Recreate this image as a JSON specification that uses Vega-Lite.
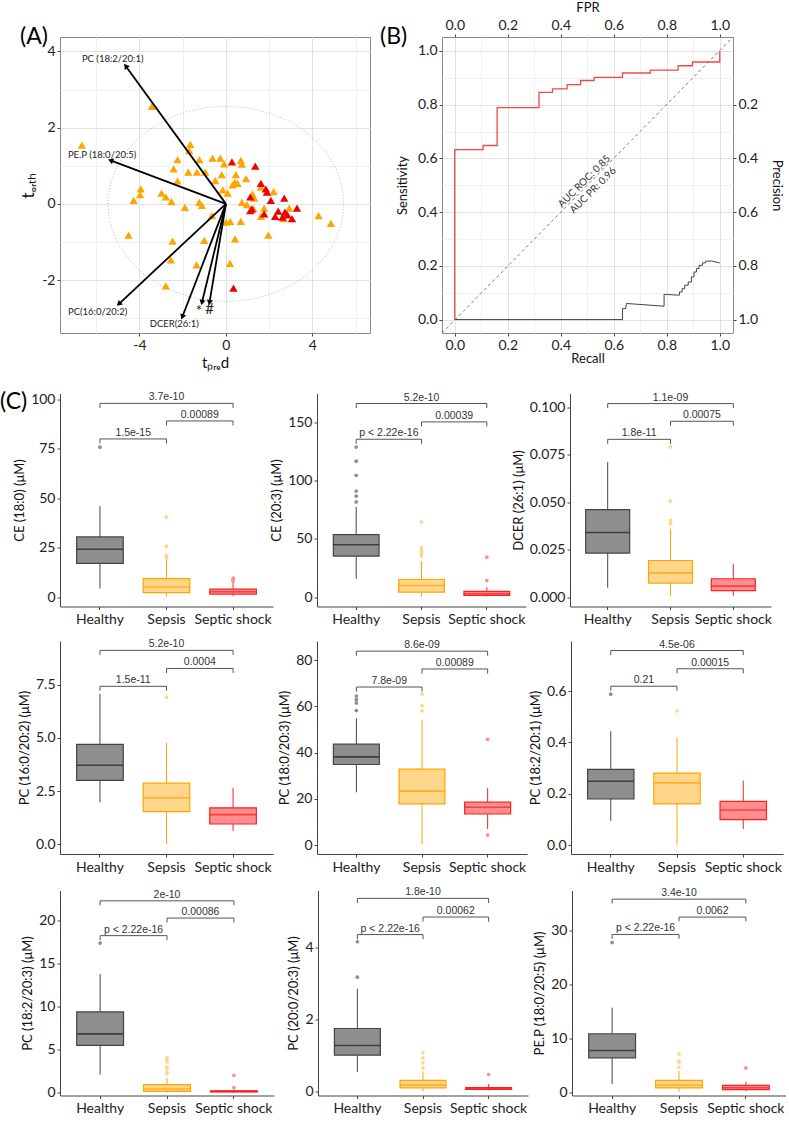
{
"$schema": "https://vega.github.io/schema/vega-lite/v6.json",
"padding": {"left": 0, "top": 0, "right": 0, "bottom": 0},
"config": {
  "font": "Lato",
  "view": {"stroke": null},
  "axis": {"labelFont": "Lato", "titleFont": "Lato", "labelFontSize": 14, "titleFontSize": 13, "titleFontWeight": "normal", "labelColor": "#222222", "titleColor": "#111111", "tickColor": "#444444", "domainColor": "#444444", "tickSize": 3, "grid": false, "labelPadding": 2, "titlePadding": 4},
  "title": {"font": "Lato", "fontSize": 23, "fontWeight": "normal", "anchor": "start", "frame": "group", "color": "#000000"}
},
"resolve": {"scale": {"color": "independent", "fill": "independent", "stroke": "independent"}},
"datasets": {
  "sc": [
    {"x": -3.43, "y": 2.56, "grp": "Sepsis"}, {"x": -6.67, "y": 1.54, "grp": "Sepsis"}, {"x": -1.65, "y": 1.56, "grp": "Sepsis"}, {"x": -1.70, "y": 1.40, "grp": "Sepsis"},
    {"x": -2.24, "y": 1.16, "grp": "Sepsis"}, {"x": -2.42, "y": 0.92, "grp": "Sepsis"}, {"x": -1.23, "y": 1.16, "grp": "Sepsis"}, {"x": -0.62, "y": 1.20, "grp": "Sepsis"},
    {"x": -0.26, "y": 1.20, "grp": "Sepsis"}, {"x": -0.08, "y": 1.05, "grp": "Sepsis"}, {"x": -1.74, "y": 0.83, "grp": "Sepsis"}, {"x": -1.34, "y": 0.83, "grp": "Sepsis"},
    {"x": -0.96, "y": 0.83, "grp": "Sepsis"}, {"x": -2.24, "y": 0.60, "grp": "Sepsis"}, {"x": -0.49, "y": 0.61, "grp": "Sepsis"}, {"x": -0.19, "y": 0.77, "grp": "Sepsis"},
    {"x": 0.46, "y": 0.77, "grp": "Sepsis"}, {"x": 0.42, "y": 0.57, "grp": "Sepsis"}, {"x": 0.54, "y": 0.54, "grp": "Sepsis"}, {"x": 0.31, "y": 0.50, "grp": "Sepsis"},
    {"x": 0.69, "y": 1.14, "grp": "Sepsis"}, {"x": 0.73, "y": 1.04, "grp": "Sepsis"}, {"x": 0.93, "y": 0.66, "grp": "Sepsis"}, {"x": -3.94, "y": 0.39, "grp": "Sepsis"},
    {"x": -3.97, "y": 0.24, "grp": "Sepsis"}, {"x": -4.27, "y": 0.09, "grp": "Sepsis"}, {"x": -2.98, "y": 0.28, "grp": "Sepsis"}, {"x": -2.78, "y": 0.18, "grp": "Sepsis"},
    {"x": -2.52, "y": 0.06, "grp": "Sepsis"}, {"x": -1.23, "y": 0.04, "grp": "Sepsis"}, {"x": -1.11, "y": -0.04, "grp": "Sepsis"}, {"x": -1.90, "y": -0.09, "grp": "Sepsis"},
    {"x": -0.15, "y": 0.37, "grp": "Sepsis"}, {"x": 0.08, "y": 0.28, "grp": "Sepsis"}, {"x": 0.74, "y": 0.04, "grp": "Sepsis"}, {"x": 0.97, "y": -0.02, "grp": "Sepsis"},
    {"x": 1.23, "y": 0.26, "grp": "Sepsis"}, {"x": 1.31, "y": 0.15, "grp": "Sepsis"}, {"x": 1.28, "y": -0.13, "grp": "Sepsis"}, {"x": 1.62, "y": 0.44, "grp": "Sepsis"},
    {"x": 1.77, "y": -0.11, "grp": "Sepsis"}, {"x": 2.21, "y": 0.32, "grp": "Sepsis"}, {"x": 1.62, "y": -0.33, "grp": "Sepsis"}, {"x": 2.67, "y": -0.39, "grp": "Sepsis"},
    {"x": 2.93, "y": -0.11, "grp": "Sepsis"}, {"x": 4.29, "y": -0.31, "grp": "Sepsis"}, {"x": 4.86, "y": -0.51, "grp": "Sepsis"}, {"x": -0.65, "y": -0.31, "grp": "Sepsis"},
    {"x": 0.00, "y": -0.48, "grp": "Sepsis"}, {"x": 0.20, "y": -0.46, "grp": "Sepsis"}, {"x": 0.69, "y": -0.46, "grp": "Sepsis"}, {"x": -4.51, "y": -0.82, "grp": "Sepsis"},
    {"x": -2.47, "y": -0.98, "grp": "Sepsis"}, {"x": -1.00, "y": -0.96, "grp": "Sepsis"}, {"x": 0.42, "y": -0.92, "grp": "Sepsis"}, {"x": 1.96, "y": -0.82, "grp": "Sepsis"},
    {"x": -2.55, "y": -1.47, "grp": "Sepsis"}, {"x": -1.36, "y": -1.60, "grp": "Sepsis"}, {"x": 0.19, "y": -1.56, "grp": "Sepsis"}, {"x": -2.78, "y": -2.15, "grp": "Sepsis"},
    {"x": 0.28, "y": 1.10, "grp": "Septic shock"}, {"x": 1.36, "y": 0.99, "grp": "Septic shock"}, {"x": 1.62, "y": 0.54, "grp": "Septic shock"}, {"x": 1.85, "y": 0.39, "grp": "Septic shock"},
    {"x": 1.90, "y": 0.31, "grp": "Septic shock"}, {"x": 1.13, "y": 0.18, "grp": "Septic shock"}, {"x": 2.08, "y": 0.09, "grp": "Septic shock"}, {"x": 2.70, "y": 0.15, "grp": "Septic shock"},
    {"x": 1.13, "y": -0.18, "grp": "Septic shock"}, {"x": 1.20, "y": -0.13, "grp": "Septic shock"}, {"x": 1.77, "y": -0.26, "grp": "Septic shock"}, {"x": 2.42, "y": -0.19, "grp": "Septic shock"},
    {"x": 2.73, "y": -0.22, "grp": "Septic shock"}, {"x": 2.28, "y": -0.33, "grp": "Septic shock"}, {"x": 2.62, "y": -0.35, "grp": "Septic shock"}, {"x": 3.06, "y": -0.39, "grp": "Septic shock"},
    {"x": 3.29, "y": -0.11, "grp": "Septic shock"}, {"x": 0.35, "y": -2.21, "grp": "Septic shock"}, {"x": 2.85, "y": -0.29, "grp": "Septic shock"}
  ],
  "ell": [
    {"i": 0, "x": 5.45, "y": 0}, {"i": 1, "x": 5.264, "y": 0.663}, {"i": 2, "x": 4.72, "y": 1.28}, {"i": 3, "x": 3.854, "y": 1.81},
    {"i": 4, "x": 2.725, "y": 2.217}, {"i": 5, "x": 1.411, "y": 2.473}, {"i": 6, "x": 0, "y": 2.56}, {"i": 7, "x": -1.411, "y": 2.473},
    {"i": 8, "x": -2.725, "y": 2.217}, {"i": 9, "x": -3.854, "y": 1.81}, {"i": 10, "x": -4.72, "y": 1.28}, {"i": 11, "x": -5.264, "y": 0.663},
    {"i": 12, "x": -5.45, "y": 0}, {"i": 13, "x": -5.264, "y": -0.663}, {"i": 14, "x": -4.72, "y": -1.28}, {"i": 15, "x": -3.854, "y": -1.81},
    {"i": 16, "x": -2.725, "y": -2.217}, {"i": 17, "x": -1.411, "y": -2.473}, {"i": 18, "x": 0, "y": -2.56}, {"i": 19, "x": 1.411, "y": -2.473},
    {"i": 20, "x": 2.725, "y": -2.217}, {"i": 21, "x": 3.854, "y": -1.81}, {"i": 22, "x": 4.72, "y": -1.28}, {"i": 23, "x": 5.264, "y": -0.663}
  ],
  "arr": [
    {"lab": "PC (18:2/20:1)", "x": -4.64, "y": 3.62, "lx": -5.24, "ly": 3.80, "ang": 323.9},
    {"lab": "PE.P (18:0/20:5)", "x": -5.34, "y": 1.14, "lx": -5.73, "ly": 1.29, "ang": 290.6},
    {"lab": "PC(16:0/20:2)", "x": -4.96, "y": -2.63, "lx": -5.94, "ly": -2.85, "ang": 227.0},
    {"lab": "DCER(26:1)", "x": -2.02, "y": -2.97, "lx": -2.39, "ly": -3.16, "ang": 201.1},
    {"lab": "*", "x": -1.11, "y": -2.59, "lx": -1.25, "ly": -2.80, "ang": 193.7},
    {"lab": "#", "x": -0.76, "y": -2.59, "lx": -0.76, "ly": -2.76, "ang": 189.5}
  ],
  "roc": [
    {"i": 0, "fpr": 0, "sens": 0}, {"i": 1, "fpr": 0, "sens": 0.633}, {"i": 2, "fpr": 0.107, "sens": 0.633}, {"i": 3, "fpr": 0.107, "sens": 0.648},
    {"i": 4, "fpr": 0.160, "sens": 0.648}, {"i": 5, "fpr": 0.160, "sens": 0.789}, {"i": 6, "fpr": 0.318, "sens": 0.789}, {"i": 7, "fpr": 0.318, "sens": 0.846},
    {"i": 8, "fpr": 0.369, "sens": 0.846}, {"i": 9, "fpr": 0.369, "sens": 0.859}, {"i": 10, "fpr": 0.424, "sens": 0.859}, {"i": 11, "fpr": 0.424, "sens": 0.875},
    {"i": 12, "fpr": 0.475, "sens": 0.875}, {"i": 13, "fpr": 0.475, "sens": 0.890}, {"i": 14, "fpr": 0.526, "sens": 0.890}, {"i": 15, "fpr": 0.526, "sens": 0.902},
    {"i": 16, "fpr": 0.633, "sens": 0.902}, {"i": 17, "fpr": 0.633, "sens": 0.918}, {"i": 18, "fpr": 0.738, "sens": 0.918}, {"i": 19, "fpr": 0.738, "sens": 0.929},
    {"i": 20, "fpr": 0.843, "sens": 0.929}, {"i": 21, "fpr": 0.843, "sens": 0.945}, {"i": 22, "fpr": 0.897, "sens": 0.945}, {"i": 23, "fpr": 0.897, "sens": 0.959},
    {"i": 24, "fpr": 1.0, "sens": 0.959}, {"i": 25, "fpr": 1.0, "sens": 1.0}
  ],
  "pr": [
    {"i": 0, "rec": 0, "prec": 1.0}, {"i": 1, "rec": 0.633, "prec": 1.0}, {"i": 2, "rec": 0.633, "prec": 0.959}, {"i": 3, "rec": 0.645, "prec": 0.959},
    {"i": 4, "rec": 0.648, "prec": 0.940}, {"i": 5, "rec": 0.786, "prec": 0.950}, {"i": 6, "rec": 0.790, "prec": 0.950}, {"i": 7, "rec": 0.790, "prec": 0.906},
    {"i": 8, "rec": 0.843, "prec": 0.909}, {"i": 9, "rec": 0.848, "prec": 0.909}, {"i": 10, "rec": 0.848, "prec": 0.897}, {"i": 11, "rec": 0.858, "prec": 0.897},
    {"i": 12, "rec": 0.858, "prec": 0.885}, {"i": 13, "rec": 0.868, "prec": 0.885}, {"i": 14, "rec": 0.868, "prec": 0.872}, {"i": 15, "rec": 0.881, "prec": 0.872},
    {"i": 16, "rec": 0.881, "prec": 0.860}, {"i": 17, "rec": 0.893, "prec": 0.860}, {"i": 18, "rec": 0.893, "prec": 0.841}, {"i": 19, "rec": 0.903, "prec": 0.841},
    {"i": 20, "rec": 0.903, "prec": 0.823}, {"i": 21, "rec": 0.912, "prec": 0.823}, {"i": 22, "rec": 0.912, "prec": 0.810}, {"i": 23, "rec": 0.922, "prec": 0.810},
    {"i": 24, "rec": 0.922, "prec": 0.798}, {"i": 25, "rec": 0.935, "prec": 0.798}, {"i": 26, "rec": 0.935, "prec": 0.789}, {"i": 27, "rec": 0.946, "prec": 0.789},
    {"i": 28, "rec": 0.946, "prec": 0.783}, {"i": 29, "rec": 0.969, "prec": 0.782}, {"i": 30, "rec": 1.0, "prec": 0.789}
  ],
  "diag": [{"x": -0.048, "y": -0.05}, {"x": 1.05, "y": 1.052}],
  "auc": [{"lab": "AUC ROC: 0.85", "x": 0.489, "y": 0.514}, {"lab": "AUC PR: 0.96", "x": 0.522, "y": 0.481}],
  "bx": [
    {"t": "box", "p": "P1", "g": "Healthy", "lo": 4.3, "q1": 17.0, "md": 24.2, "q3": 30.4, "hi": 46.0},
    {"t": "box", "p": "P1", "g": "Sepsis", "lo": 0.2, "q1": 2.2, "md": 5.1, "q3": 9.3, "hi": 19.5},
    {"t": "box", "p": "P1", "g": "Septic shock", "lo": 0.5, "q1": 1.5, "md": 2.7, "q3": 4.0, "hi": 7.5},
    {"t": "out", "p": "P1", "g": "Healthy", "v": 75.8},
    {"t": "out", "p": "P1", "g": "Sepsis", "v": 40.4}, {"t": "out", "p": "P1", "g": "Sepsis", "v": 25.7}, {"t": "out", "p": "P1", "g": "Sepsis", "v": 20.9}, {"t": "out", "p": "P1", "g": "Sepsis", "v": 20.4}, {"t": "out", "p": "P1", "g": "Sepsis", "v": 20.1},
    {"t": "out", "p": "P1", "g": "Septic shock", "v": 9.6}, {"t": "out", "p": "P1", "g": "Septic shock", "v": 8.8}, {"t": "out", "p": "P1", "g": "Septic shock", "v": 8.0},
    {"t": "br", "p": "P1", "g": "Healthy", "g2": "Sepsis", "m": "Healthy", "w": false, "y": 80.0, "ylo": 77.7, "lab": "1.5e-15"},
    {"t": "br", "p": "P1", "g": "Sepsis", "g2": "Septic shock", "m": "Sepsis", "w": false, "y": 89.1, "ylo": 86.8, "lab": "0.00089"},
    {"t": "br", "p": "P1", "g": "Healthy", "g2": "Septic shock", "m": "Sepsis", "w": true, "y": 98.0, "ylo": 95.7, "lab": "3.7e-10"},

    {"t": "box", "p": "P2", "g": "Healthy", "lo": 15.8, "q1": 35.3, "md": 45.1, "q3": 53.7, "hi": 77.5},
    {"t": "box", "p": "P2", "g": "Sepsis", "lo": 0.3, "q1": 4.3, "md": 10.1, "q3": 15.2, "hi": 31.0},
    {"t": "box", "p": "P2", "g": "Septic shock", "lo": 0.5, "q1": 1.5, "md": 3.0, "q3": 5.0, "hi": 8.5},
    {"t": "out", "p": "P2", "g": "Healthy", "v": 129}, {"t": "out", "p": "P2", "g": "Healthy", "v": 116.8}, {"t": "out", "p": "P2", "g": "Healthy", "v": 104.7}, {"t": "out", "p": "P2", "g": "Healthy", "v": 91.2}, {"t": "out", "p": "P2", "g": "Healthy", "v": 86.9}, {"t": "out", "p": "P2", "g": "Healthy", "v": 81.8},
    {"t": "out", "p": "P2", "g": "Sepsis", "v": 64.5}, {"t": "out", "p": "P2", "g": "Sepsis", "v": 42.5}, {"t": "out", "p": "P2", "g": "Sepsis", "v": 40.0}, {"t": "out", "p": "P2", "g": "Sepsis", "v": 37.5}, {"t": "out", "p": "P2", "g": "Sepsis", "v": 35.5},
    {"t": "out", "p": "P2", "g": "Septic shock", "v": 34.4}, {"t": "out", "p": "P2", "g": "Septic shock", "v": 14.3},
    {"t": "br", "p": "P2", "g": "Healthy", "g2": "Sepsis", "m": "Healthy", "w": false, "y": 135.7, "ylo": 131.8, "lab": "p < 2.22e-16"},
    {"t": "br", "p": "P2", "g": "Sepsis", "g2": "Septic shock", "m": "Sepsis", "w": false, "y": 150.6, "ylo": 146.7, "lab": "0.00039"},
    {"t": "br", "p": "P2", "g": "Healthy", "g2": "Septic shock", "m": "Sepsis", "w": true, "y": 166.4, "ylo": 162.5, "lab": "5.2e-10"},

    {"t": "box", "p": "P3", "g": "Healthy", "lo": 0.005, "q1": 0.0232, "md": 0.034, "q3": 0.046, "hi": 0.071},
    {"t": "box", "p": "P3", "g": "Sepsis", "lo": 0.0005, "q1": 0.0074, "md": 0.0128, "q3": 0.0193, "hi": 0.036},
    {"t": "box", "p": "P3", "g": "Septic shock", "lo": 0.0007, "q1": 0.0035, "md": 0.0058, "q3": 0.0097, "hi": 0.0176},
    {"t": "out", "p": "P3", "g": "Sepsis", "v": 0.079}, {"t": "out", "p": "P3", "g": "Sepsis", "v": 0.0505}, {"t": "out", "p": "P3", "g": "Sepsis", "v": 0.0404}, {"t": "out", "p": "P3", "g": "Sepsis", "v": 0.039}, {"t": "out", "p": "P3", "g": "Sepsis", "v": 0.0386},
    {"t": "br", "p": "P3", "g": "Healthy", "g2": "Sepsis", "m": "Healthy", "w": false, "y": 0.083, "ylo": 0.0806, "lab": "1.8e-11"},
    {"t": "br", "p": "P3", "g": "Sepsis", "g2": "Septic shock", "m": "Sepsis", "w": false, "y": 0.0925, "ylo": 0.0901, "lab": "0.00075"},
    {"t": "br", "p": "P3", "g": "Healthy", "g2": "Septic shock", "m": "Sepsis", "w": true, "y": 0.1018, "ylo": 0.0994, "lab": "1.1e-09"},

    {"t": "box", "p": "P4", "g": "Healthy", "lo": 1.97, "q1": 3.0, "md": 3.71, "q3": 4.69, "hi": 7.06},
    {"t": "box", "p": "P4", "g": "Sepsis", "lo": 0.0, "q1": 1.53, "md": 2.18, "q3": 2.87, "hi": 4.77},
    {"t": "box", "p": "P4", "g": "Septic shock", "lo": 0.63, "q1": 0.95, "md": 1.39, "q3": 1.71, "hi": 2.65},
    {"t": "out", "p": "P4", "g": "Sepsis", "v": 6.9},
    {"t": "br", "p": "P4", "g": "Healthy", "g2": "Sepsis", "m": "Healthy", "w": false, "y": 7.42, "ylo": 7.21, "lab": "1.5e-11"},
    {"t": "br", "p": "P4", "g": "Sepsis", "g2": "Septic shock", "m": "Sepsis", "w": false, "y": 8.26, "ylo": 8.05, "lab": "0.0004"},
    {"t": "br", "p": "P4", "g": "Healthy", "g2": "Septic shock", "m": "Sepsis", "w": true, "y": 9.11, "ylo": 8.90, "lab": "5.2e-10"},

    {"t": "box", "p": "P5", "g": "Healthy", "lo": 22.9, "q1": 34.9, "md": 38.2, "q3": 43.7, "hi": 54.9},
    {"t": "box", "p": "P5", "g": "Sepsis", "lo": 0.4, "q1": 17.9, "md": 23.4, "q3": 32.9, "hi": 54.2},
    {"t": "box", "p": "P5", "g": "Septic shock", "lo": 7.0, "q1": 13.5, "md": 16.4, "q3": 18.6, "hi": 24.7},
    {"t": "out", "p": "P5", "g": "Healthy", "v": 64.5}, {"t": "out", "p": "P5", "g": "Healthy", "v": 63.0}, {"t": "out", "p": "P5", "g": "Healthy", "v": 61.5}, {"t": "out", "p": "P5", "g": "Healthy", "v": 58.2},
    {"t": "out", "p": "P5", "g": "Sepsis", "v": 65.4}, {"t": "out", "p": "P5", "g": "Sepsis", "v": 60.4}, {"t": "out", "p": "P5", "g": "Sepsis", "v": 58.1},
    {"t": "out", "p": "P5", "g": "Septic shock", "v": 45.8}, {"t": "out", "p": "P5", "g": "Septic shock", "v": 4.4},
    {"t": "br", "p": "P5", "g": "Healthy", "g2": "Sepsis", "m": "Healthy", "w": false, "y": 68.4, "ylo": 66.4, "lab": "7.8e-09"},
    {"t": "br", "p": "P5", "g": "Sepsis", "g2": "Septic shock", "m": "Sepsis", "w": false, "y": 76.2, "ylo": 74.2, "lab": "0.00089"},
    {"t": "br", "p": "P5", "g": "Healthy", "g2": "Septic shock", "m": "Sepsis", "w": true, "y": 83.9, "ylo": 81.9, "lab": "8.6e-09"},

    {"t": "box", "p": "P6", "g": "Healthy", "lo": 0.095, "q1": 0.18, "md": 0.249, "q3": 0.295, "hi": 0.444},
    {"t": "box", "p": "P6", "g": "Sepsis", "lo": 0.002, "q1": 0.161, "md": 0.243, "q3": 0.281, "hi": 0.42},
    {"t": "box", "p": "P6", "g": "Septic shock", "lo": 0.063, "q1": 0.1, "md": 0.137, "q3": 0.171, "hi": 0.252},
    {"t": "out", "p": "P6", "g": "Healthy", "v": 0.588}, {"t": "out", "p": "P6", "g": "Sepsis", "v": 0.523},
    {"t": "br", "p": "P6", "g": "Healthy", "g2": "Sepsis", "m": "Healthy", "w": false, "y": 0.619, "ylo": 0.601, "lab": "0.21"},
    {"t": "br", "p": "P6", "g": "Sepsis", "g2": "Septic shock", "m": "Sepsis", "w": false, "y": 0.687, "ylo": 0.669, "lab": "0.00015"},
    {"t": "br", "p": "P6", "g": "Healthy", "g2": "Septic shock", "m": "Sepsis", "w": true, "y": 0.758, "ylo": 0.740, "lab": "4.5e-06"},

    {"t": "box", "p": "P7", "g": "Healthy", "lo": 2.13, "q1": 5.53, "md": 6.85, "q3": 9.4, "hi": 13.8},
    {"t": "box", "p": "P7", "g": "Sepsis", "lo": 0.02, "q1": 0.19, "md": 0.46, "q3": 0.97, "hi": 1.74},
    {"t": "box", "p": "P7", "g": "Septic shock", "lo": 0.05, "q1": 0.12, "md": 0.18, "q3": 0.25, "hi": 0.4},
    {"t": "out", "p": "P7", "g": "Healthy", "v": 17.4},
    {"t": "out", "p": "P7", "g": "Sepsis", "v": 2.25}, {"t": "out", "p": "P7", "g": "Sepsis", "v": 2.35}, {"t": "out", "p": "P7", "g": "Sepsis", "v": 2.8}, {"t": "out", "p": "P7", "g": "Sepsis", "v": 3.0}, {"t": "out", "p": "P7", "g": "Sepsis", "v": 3.6}, {"t": "out", "p": "P7", "g": "Sepsis", "v": 3.9}, {"t": "out", "p": "P7", "g": "Sepsis", "v": 4.1},
    {"t": "out", "p": "P7", "g": "Septic shock", "v": 2.05}, {"t": "out", "p": "P7", "g": "Septic shock", "v": 0.62},
    {"t": "br", "p": "P7", "g": "Healthy", "g2": "Sepsis", "m": "Healthy", "w": false, "y": 18.26, "ylo": 17.74, "lab": "p < 2.22e-16"},
    {"t": "br", "p": "P7", "g": "Sepsis", "g2": "Septic shock", "m": "Sepsis", "w": false, "y": 20.3, "ylo": 19.78, "lab": "0.00086"},
    {"t": "br", "p": "P7", "g": "Healthy", "g2": "Septic shock", "m": "Sepsis", "w": true, "y": 22.3, "ylo": 21.78, "lab": "2e-10"},

    {"t": "box", "p": "P8", "g": "Healthy", "lo": 0.54, "q1": 1.005, "md": 1.275, "q3": 1.75, "hi": 2.86},
    {"t": "box", "p": "P8", "g": "Sepsis", "lo": 0.0, "q1": 0.09, "md": 0.17, "q3": 0.3, "hi": 0.55},
    {"t": "box", "p": "P8", "g": "Septic shock", "lo": 0.02, "q1": 0.05, "md": 0.08, "q3": 0.1, "hi": 0.2},
    {"t": "out", "p": "P8", "g": "Healthy", "v": 4.17}, {"t": "out", "p": "P8", "g": "Healthy", "v": 3.18},
    {"t": "out", "p": "P8", "g": "Sepsis", "v": 1.07}, {"t": "out", "p": "P8", "g": "Sepsis", "v": 0.93}, {"t": "out", "p": "P8", "g": "Sepsis", "v": 0.79}, {"t": "out", "p": "P8", "g": "Sepsis", "v": 0.65},
    {"t": "out", "p": "P8", "g": "Septic shock", "v": 0.466},
    {"t": "br", "p": "P8", "g": "Healthy", "g2": "Sepsis", "m": "Healthy", "w": false, "y": 4.37, "ylo": 4.24, "lab": "p < 2.22e-16"},
    {"t": "br", "p": "P8", "g": "Sepsis", "g2": "Septic shock", "m": "Sepsis", "w": false, "y": 4.86, "ylo": 4.73, "lab": "0.00062"},
    {"t": "br", "p": "P8", "g": "Healthy", "g2": "Septic shock", "m": "Sepsis", "w": true, "y": 5.38, "ylo": 5.25, "lab": "1.8e-10"},

    {"t": "box", "p": "P9", "g": "Healthy", "lo": 1.66, "q1": 6.46, "md": 7.82, "q3": 10.9, "hi": 15.7},
    {"t": "box", "p": "P9", "g": "Sepsis", "lo": 0.2, "q1": 0.92, "md": 1.42, "q3": 2.29, "hi": 4.0},
    {"t": "box", "p": "P9", "g": "Septic shock", "lo": 0.3, "q1": 0.6, "md": 0.95, "q3": 1.4, "hi": 2.0},
    {"t": "out", "p": "P9", "g": "Healthy", "v": 27.7},
    {"t": "out", "p": "P9", "g": "Sepsis", "v": 7.2}, {"t": "out", "p": "P9", "g": "Sepsis", "v": 5.85}, {"t": "out", "p": "P9", "g": "Sepsis", "v": 5.7}, {"t": "out", "p": "P9", "g": "Sepsis", "v": 4.74},
    {"t": "out", "p": "P9", "g": "Septic shock", "v": 4.6},
    {"t": "br", "p": "P9", "g": "Healthy", "g2": "Sepsis", "m": "Healthy", "w": false, "y": 29.2, "ylo": 28.4, "lab": "p < 2.22e-16"},
    {"t": "br", "p": "P9", "g": "Sepsis", "g2": "Septic shock", "m": "Sepsis", "w": false, "y": 32.4, "ylo": 31.6, "lab": "0.0062"},
    {"t": "br", "p": "P9", "g": "Healthy", "g2": "Septic shock", "m": "Sepsis", "w": true, "y": 35.7, "ylo": 34.9, "lab": "3.4e-10"}
  ]
},
"bounds": "full",
"spacing": 19.5,
"vconcat": [
  {
    "hconcat": [
      {
        "width": 310, "height": 296,
        "view": {"stroke": "#8a8a8a"},
        "title": {"text": "(A)", "dx": -40, "dy": 16},
        "layer": [
          {
            "data": {"name": "ell"},
            "mark": {"type": "line", "interpolate": "cardinal-closed", "color": "#A8A8A8", "strokeWidth": 0.8, "strokeDash": [1, 2]},
            "encoding": {
              "x": {"field": "x", "type": "quantitative", "scale": {"domain": [-7.68, 6.67], "nice": false, "zero": false},
                "axis": {"title": "tₚᵣₑd", "titleFontSize": 15, "titlePadding": 3, "values": [-6, -4, -2, 0, 2, 4, 6], "labelExpr": "datum.value % 4 == 0 ? '' + datum.value : ''", "domain": false, "grid": true,
                  "gridColor": {"condition": {"test": "datum.value % 4 == 0", "value": "#E2E2E2"}, "value": "#F0F0F0"},
                  "tickOpacity": {"condition": {"test": "datum.value % 4 == 0", "value": 1}, "value": 0}}},
              "y": {"field": "y", "type": "quantitative", "scale": {"domain": [-3.39, 4.38], "nice": false, "zero": false},
                "axis": {"title": "tₒᵣₜₕ", "titleFontSize": 17, "values": [-3, -2, -1, 0, 1, 2, 3, 4], "labelExpr": "datum.value % 2 == 0 ? '' + datum.value : ''", "domain": false, "grid": true,
                  "gridColor": {"condition": {"test": "datum.value % 2 == 0", "value": "#E2E2E2"}, "value": "#F0F0F0"},
                  "tickOpacity": {"condition": {"test": "datum.value % 2 == 0", "value": 1}, "value": 0}}},
              "order": {"field": "i", "type": "quantitative"}
            }
          },
          {
            "data": {"name": "sc"},
            "mark": {"type": "point", "shape": "triangle-up", "filled": true, "size": 70, "opacity": 1},
            "encoding": {
              "x": {"field": "x", "type": "quantitative"},
              "y": {"field": "y", "type": "quantitative"},
              "color": {"field": "grp", "type": "nominal", "scale": {"domain": ["Sepsis", "Septic shock"], "range": ["#FFA500", "#EE0000"]}, "legend": null}
            }
          },
          {
            "data": {"name": "arr"},
            "mark": {"type": "rule", "color": "#000000", "strokeWidth": 1.8},
            "encoding": {
              "x": {"field": "x", "type": "quantitative"}, "y": {"field": "y", "type": "quantitative"},
              "x2": {"datum": 0}, "y2": {"datum": 0}
            }
          },
          {
            "data": {"name": "arr"},
            "mark": {"type": "point", "shape": "triangle-up", "filled": true, "size": 38, "color": "#000000", "opacity": 1},
            "encoding": {
              "x": {"field": "x", "type": "quantitative"}, "y": {"field": "y", "type": "quantitative"},
              "angle": {"field": "ang", "type": "quantitative", "scale": null}
            }
          },
          {
            "data": {"name": "arr"},
            "mark": {"type": "text", "font": "Lato", "color": "#222222"},
            "encoding": {
              "x": {"field": "lx", "type": "quantitative"}, "y": {"field": "ly", "type": "quantitative"},
              "text": {"field": "lab"},
              "size": {"condition": {"test": "length(datum.lab) == 1", "value": 15}, "value": 9.5}
            }
          }
        ]
      },
      {
        "width": 291, "height": 296,
        "view": {"stroke": "#8a8a8a"},
        "title": {"text": "(B)", "dx": -62, "dy": 52},
        "resolve": {"scale": {"x": "independent", "y": "independent"}, "axis": {"x": "independent", "y": "independent"}},
        "layer": [
          {
            "data": {"name": "roc"},
            "mark": {"type": "line", "color": "#F04848", "strokeWidth": 1.3},
            "encoding": {
              "x": {"field": "fpr", "type": "quantitative", "scale": {"domain": [-0.048, 1.05], "nice": false, "zero": false},
                "axis": {"orient": "top", "title": "FPR", "values": [0, 0.1, 0.2, 0.3, 0.4, 0.5, 0.6, 0.7, 0.8, 0.9, 1], "labelExpr": "round(datum.value*10) % 2 == 0 ? format(datum.value, '.1f') : ''", "domain": false, "grid": true,
                  "gridColor": {"condition": {"test": "round(datum.value*10) % 2 == 0", "value": "#E2E2E2"}, "value": "#F0F0F0"},
                  "tickOpacity": {"condition": {"test": "round(datum.value*10) % 2 == 0", "value": 1}, "value": 0}}},
              "y": {"field": "sens", "type": "quantitative", "scale": {"domain": [-0.05, 1.052], "nice": false, "zero": false},
                "axis": {"orient": "left", "title": "Sensitivity", "titlePadding": 8, "values": [0, 0.1, 0.2, 0.3, 0.4, 0.5, 0.6, 0.7, 0.8, 0.9, 1], "labelExpr": "round(datum.value*10) % 2 == 0 ? format(datum.value, '.1f') : ''", "domain": false, "grid": true,
                  "gridColor": {"condition": {"test": "round(datum.value*10) % 2 == 0", "value": "#E2E2E2"}, "value": "#F0F0F0"},
                  "tickOpacity": {"condition": {"test": "round(datum.value*10) % 2 == 0", "value": 1}, "value": 0}}},
              "order": {"field": "i", "type": "quantitative"}
            }
          },
          {
            "data": {"name": "pr"},
            "mark": {"type": "line", "color": "#444444", "strokeWidth": 1},
            "encoding": {
              "x": {"field": "rec", "type": "quantitative", "scale": {"domain": [-0.048, 1.05], "nice": false, "zero": false},
                "axis": {"orient": "bottom", "title": "Recall", "titlePadding": 0, "values": [0, 0.2, 0.4, 0.6, 0.8, 1], "format": ".1f", "domain": false, "grid": false}},
              "y": {"field": "prec", "type": "quantitative", "scale": {"domain": [-0.052, 1.05], "reverse": true, "nice": false, "zero": false},
                "axis": {"orient": "right", "title": "Precision", "titlePadding": 12, "values": [0.2, 0.4, 0.6, 0.8, 1], "format": ".1f", "domain": false, "grid": false}},
              "order": {"field": "i", "type": "quantitative"}
            }
          },
          {
            "data": {"name": "diag"},
            "mark": {"type": "line", "color": "#555555", "strokeWidth": 0.8, "strokeDash": [3, 3]},
            "encoding": {
              "x": {"field": "x", "type": "quantitative", "scale": {"domain": [-0.048, 1.05], "nice": false, "zero": false}, "axis": null},
              "y": {"field": "y", "type": "quantitative", "scale": {"domain": [-0.05, 1.052], "nice": false, "zero": false}, "axis": null}
            }
          },
          {
            "data": {"name": "auc"},
            "mark": {"type": "text", "angle": 315, "fontSize": 10, "font": "Lato", "color": "#333333"},
            "encoding": {
              "x": {"field": "x", "type": "quantitative", "scale": {"domain": [-0.048, 1.05], "nice": false, "zero": false}, "axis": null},
              "y": {"field": "y", "type": "quantitative", "scale": {"domain": [-0.05, 1.052], "nice": false, "zero": false}, "axis": null},
              "text": {"field": "lab"}
            }
          }
        ]
      }
    ],
    "spacing": 72,
    "bounds": "flush"
  },
  {
    "bounds": "full",
    "spacing": 12.5,
    "vconcat": [
      {
        "bounds": "flush", "spacing": 44,
        "hconcat": [
          {"width": 213, "height": 213, "title": {"text": "(C)", "dx": -60, "dy": 26}, "data": {"name": "bx"}, "transform": [{"filter": "datum.p == 'P1'"}],
           "encoding": {"x": {"field": "g", "type": "nominal", "scale": {"domain": ["Healthy", "Sepsis", "Septic shock"], "paddingInner": 0, "paddingOuter": 0.1}, "axis": {"title": null, "labelAngle": 0, "labelOverlap": false, "labelBound": false, "labelPadding": 3}}},
           "layer": [
            {"transform": [{"filter": "datum.t == 'box'"}], "mark": {"type": "rule", "strokeWidth": 1}, "encoding": {"y": {"field": "lo", "type": "quantitative", "scale": {"domain": [-4.8, 103], "nice": false, "zero": false}, "axis": {"title": "CE (18:0) (μM)", "values": [0, 25, 50, 75, 100]}}, "y2": {"field": "hi"}, "stroke": {"field": "g", "type": "nominal", "scale": {"domain": ["Healthy", "Sepsis", "Septic shock"], "range": ["#444444", "#FFA500", "#FF2020"]}, "legend": null}}},
            {"transform": [{"filter": "datum.t == 'box'"}], "mark": {"type": "bar", "width": {"band": 0.7}, "strokeWidth": 1.2}, "encoding": {"y": {"field": "q1", "type": "quantitative"}, "y2": {"field": "q3"}, "fill": {"field": "g", "type": "nominal", "scale": {"domain": ["Healthy", "Sepsis", "Septic shock"], "range": ["#8E8E8E", "#FFD68A", "#FF8F8F"]}, "legend": null}, "stroke": {"field": "g", "type": "nominal", "legend": null}}},
            {"transform": [{"filter": "datum.t == 'box'"}], "mark": {"type": "tick", "thickness": 1.6, "size": 46}, "encoding": {"y": {"field": "md", "type": "quantitative"}, "color": {"field": "g", "type": "nominal", "scale": {"domain": ["Healthy", "Sepsis", "Septic shock"], "range": ["#1E1E1E", "#FFA000", "#FF1A1A"]}, "legend": null}}},
            {"transform": [{"filter": "datum.t == 'out'"}], "mark": {"type": "circle", "size": 14, "opacity": 1}, "encoding": {"y": {"field": "v", "type": "quantitative"}, "fill": {"field": "g", "type": "nominal", "legend": null}}},
            {"transform": [{"filter": "datum.t == 'br'"}], "mark": {"type": "rule", "color": "#555555", "strokeWidth": 1}, "encoding": {"x2": {"field": "g2"}, "y": {"field": "y", "type": "quantitative"}}},
            {"transform": [{"filter": "datum.t == 'br'"}], "mark": {"type": "rule", "color": "#555555", "strokeWidth": 1}, "encoding": {"y": {"field": "y", "type": "quantitative"}, "y2": {"field": "ylo"}}},
            {"transform": [{"filter": "datum.t == 'br'"}], "mark": {"type": "rule", "color": "#555555", "strokeWidth": 1}, "encoding": {"x": {"field": "g2", "type": "nominal"}, "y": {"field": "y", "type": "quantitative"}, "y2": {"field": "ylo"}}},
            {"transform": [{"filter": "datum.t == 'br' && !datum.w"}], "mark": {"type": "text", "baseline": "bottom", "dy": -1, "fontSize": 10.5, "font": "Liberation Sans", "color": "#333333"}, "encoding": {"x": {"field": "m", "type": "nominal", "bandPosition": 1}, "y": {"field": "y", "type": "quantitative"}, "text": {"field": "lab"}}},
            {"transform": [{"filter": "datum.t == 'br' && datum.w"}], "mark": {"type": "text", "baseline": "bottom", "dy": -1, "fontSize": 10.5, "font": "Liberation Sans", "color": "#333333"}, "encoding": {"x": {"field": "m", "type": "nominal"}, "y": {"field": "y", "type": "quantitative"}, "text": {"field": "lab"}}}
           ]},
          {"width": 209, "height": 213, "data": {"name": "bx"}, "transform": [{"filter": "datum.p == 'P2'"}],
           "encoding": {"x": {"field": "g", "type": "nominal", "scale": {"domain": ["Healthy", "Sepsis", "Septic shock"], "paddingInner": 0, "paddingOuter": 0.1}, "axis": {"title": null, "labelAngle": 0, "labelOverlap": false, "labelBound": false, "labelPadding": 3}}},
           "layer": [
            {"transform": [{"filter": "datum.t == 'box'"}], "mark": {"type": "rule", "strokeWidth": 1}, "encoding": {"y": {"field": "lo", "type": "quantitative", "scale": {"domain": [-8.0, 175], "nice": false, "zero": false}, "axis": {"title": "CE (20:3) (μM)", "values": [0, 50, 100, 150]}}, "y2": {"field": "hi"}, "stroke": {"field": "g", "type": "nominal", "scale": {"domain": ["Healthy", "Sepsis", "Septic shock"], "range": ["#444444", "#FFA500", "#FF2020"]}, "legend": null}}},
            {"transform": [{"filter": "datum.t == 'box'"}], "mark": {"type": "bar", "width": {"band": 0.7}, "strokeWidth": 1.2}, "encoding": {"y": {"field": "q1", "type": "quantitative"}, "y2": {"field": "q3"}, "fill": {"field": "g", "type": "nominal", "scale": {"domain": ["Healthy", "Sepsis", "Septic shock"], "range": ["#8E8E8E", "#FFD68A", "#FF8F8F"]}, "legend": null}, "stroke": {"field": "g", "type": "nominal", "legend": null}}},
            {"transform": [{"filter": "datum.t == 'box'"}], "mark": {"type": "tick", "thickness": 1.6, "size": 46}, "encoding": {"y": {"field": "md", "type": "quantitative"}, "color": {"field": "g", "type": "nominal", "scale": {"domain": ["Healthy", "Sepsis", "Septic shock"], "range": ["#1E1E1E", "#FFA000", "#FF1A1A"]}, "legend": null}}},
            {"transform": [{"filter": "datum.t == 'out'"}], "mark": {"type": "circle", "size": 14, "opacity": 1}, "encoding": {"y": {"field": "v", "type": "quantitative"}, "fill": {"field": "g", "type": "nominal", "legend": null}}},
            {"transform": [{"filter": "datum.t == 'br'"}], "mark": {"type": "rule", "color": "#555555", "strokeWidth": 1}, "encoding": {"x2": {"field": "g2"}, "y": {"field": "y", "type": "quantitative"}}},
            {"transform": [{"filter": "datum.t == 'br'"}], "mark": {"type": "rule", "color": "#555555", "strokeWidth": 1}, "encoding": {"y": {"field": "y", "type": "quantitative"}, "y2": {"field": "ylo"}}},
            {"transform": [{"filter": "datum.t == 'br'"}], "mark": {"type": "rule", "color": "#555555", "strokeWidth": 1}, "encoding": {"x": {"field": "g2", "type": "nominal"}, "y": {"field": "y", "type": "quantitative"}, "y2": {"field": "ylo"}}},
            {"transform": [{"filter": "datum.t == 'br' && !datum.w"}], "mark": {"type": "text", "baseline": "bottom", "dy": -1, "fontSize": 10.5, "font": "Liberation Sans", "color": "#333333"}, "encoding": {"x": {"field": "m", "type": "nominal", "bandPosition": 1}, "y": {"field": "y", "type": "quantitative"}, "text": {"field": "lab"}}},
            {"transform": [{"filter": "datum.t == 'br' && datum.w"}], "mark": {"type": "text", "baseline": "bottom", "dy": -1, "fontSize": 10.5, "font": "Liberation Sans", "color": "#333333"}, "encoding": {"x": {"field": "m", "type": "nominal"}, "y": {"field": "y", "type": "quantitative"}, "text": {"field": "lab"}}}
           ]},
          {"width": 201, "height": 213, "data": {"name": "bx"}, "transform": [{"filter": "datum.p == 'P3'"}],
           "encoding": {"x": {"field": "g", "type": "nominal", "scale": {"domain": ["Healthy", "Sepsis", "Septic shock"], "paddingInner": 0, "paddingOuter": 0.1}, "axis": {"title": null, "labelAngle": 0, "labelOverlap": false, "labelBound": false, "labelPadding": 3}}},
           "layer": [
            {"transform": [{"filter": "datum.t == 'box'"}], "mark": {"type": "rule", "strokeWidth": 1}, "encoding": {"y": {"field": "lo", "type": "quantitative", "scale": {"domain": [-0.0049, 0.1071], "nice": false, "zero": false}, "axis": {"title": "DCER (26:1) (μM)", "values": [0, 0.025, 0.05, 0.075, 0.1], "format": ".3f"}}, "y2": {"field": "hi"}, "stroke": {"field": "g", "type": "nominal", "scale": {"domain": ["Healthy", "Sepsis", "Septic shock"], "range": ["#444444", "#FFA500", "#FF2020"]}, "legend": null}}},
            {"transform": [{"filter": "datum.t == 'box'"}], "mark": {"type": "bar", "width": {"band": 0.7}, "strokeWidth": 1.2}, "encoding": {"y": {"field": "q1", "type": "quantitative"}, "y2": {"field": "q3"}, "fill": {"field": "g", "type": "nominal", "scale": {"domain": ["Healthy", "Sepsis", "Septic shock"], "range": ["#8E8E8E", "#FFD68A", "#FF8F8F"]}, "legend": null}, "stroke": {"field": "g", "type": "nominal", "legend": null}}},
            {"transform": [{"filter": "datum.t == 'box'"}], "mark": {"type": "tick", "thickness": 1.6, "size": 44}, "encoding": {"y": {"field": "md", "type": "quantitative"}, "color": {"field": "g", "type": "nominal", "scale": {"domain": ["Healthy", "Sepsis", "Septic shock"], "range": ["#1E1E1E", "#FFA000", "#FF1A1A"]}, "legend": null}}},
            {"transform": [{"filter": "datum.t == 'out'"}], "mark": {"type": "circle", "size": 14, "opacity": 1}, "encoding": {"y": {"field": "v", "type": "quantitative"}, "fill": {"field": "g", "type": "nominal", "legend": null}}},
            {"transform": [{"filter": "datum.t == 'br'"}], "mark": {"type": "rule", "color": "#555555", "strokeWidth": 1}, "encoding": {"x2": {"field": "g2"}, "y": {"field": "y", "type": "quantitative"}}},
            {"transform": [{"filter": "datum.t == 'br'"}], "mark": {"type": "rule", "color": "#555555", "strokeWidth": 1}, "encoding": {"y": {"field": "y", "type": "quantitative"}, "y2": {"field": "ylo"}}},
            {"transform": [{"filter": "datum.t == 'br'"}], "mark": {"type": "rule", "color": "#555555", "strokeWidth": 1}, "encoding": {"x": {"field": "g2", "type": "nominal"}, "y": {"field": "y", "type": "quantitative"}, "y2": {"field": "ylo"}}},
            {"transform": [{"filter": "datum.t == 'br' && !datum.w"}], "mark": {"type": "text", "baseline": "bottom", "dy": -1, "fontSize": 10.5, "font": "Liberation Sans", "color": "#333333"}, "encoding": {"x": {"field": "m", "type": "nominal", "bandPosition": 1}, "y": {"field": "y", "type": "quantitative"}, "text": {"field": "lab"}}},
            {"transform": [{"filter": "datum.t == 'br' && datum.w"}], "mark": {"type": "text", "baseline": "bottom", "dy": -1, "fontSize": 10.5, "font": "Liberation Sans", "color": "#333333"}, "encoding": {"x": {"field": "m", "type": "nominal"}, "y": {"field": "y", "type": "quantitative"}, "text": {"field": "lab"}}}
           ]}
        ]
      },
      {
        "bounds": "flush", "spacing": 44,
        "hconcat": [
          {"width": 213, "height": 213, "data": {"name": "bx"}, "transform": [{"filter": "datum.p == 'P4'"}],
           "encoding": {"x": {"field": "g", "type": "nominal", "scale": {"domain": ["Healthy", "Sepsis", "Septic shock"], "paddingInner": 0, "paddingOuter": 0.1}, "axis": {"title": null, "labelAngle": 0, "labelOverlap": false, "labelBound": false, "labelPadding": 3}}},
           "layer": [
            {"transform": [{"filter": "datum.t == 'box'"}], "mark": {"type": "rule", "strokeWidth": 1}, "encoding": {"y": {"field": "lo", "type": "quantitative", "scale": {"domain": [-0.46, 9.55], "nice": false, "zero": false}, "axis": {"title": "PC (16:0/20:2) (μM)", "values": [0, 2.5, 5, 7.5], "format": ".1f"}}, "y2": {"field": "hi"}, "stroke": {"field": "g", "type": "nominal", "scale": {"domain": ["Healthy", "Sepsis", "Septic shock"], "range": ["#444444", "#FFA500", "#FF2020"]}, "legend": null}}},
            {"transform": [{"filter": "datum.t == 'box'"}], "mark": {"type": "bar", "width": {"band": 0.7}, "strokeWidth": 1.2}, "encoding": {"y": {"field": "q1", "type": "quantitative"}, "y2": {"field": "q3"}, "fill": {"field": "g", "type": "nominal", "scale": {"domain": ["Healthy", "Sepsis", "Septic shock"], "range": ["#8E8E8E", "#FFD68A", "#FF8F8F"]}, "legend": null}, "stroke": {"field": "g", "type": "nominal", "legend": null}}},
            {"transform": [{"filter": "datum.t == 'box'"}], "mark": {"type": "tick", "thickness": 1.6, "size": 46}, "encoding": {"y": {"field": "md", "type": "quantitative"}, "color": {"field": "g", "type": "nominal", "scale": {"domain": ["Healthy", "Sepsis", "Septic shock"], "range": ["#1E1E1E", "#FFA000", "#FF1A1A"]}, "legend": null}}},
            {"transform": [{"filter": "datum.t == 'out'"}], "mark": {"type": "circle", "size": 14, "opacity": 1}, "encoding": {"y": {"field": "v", "type": "quantitative"}, "fill": {"field": "g", "type": "nominal", "legend": null}}},
            {"transform": [{"filter": "datum.t == 'br'"}], "mark": {"type": "rule", "color": "#555555", "strokeWidth": 1}, "encoding": {"x2": {"field": "g2"}, "y": {"field": "y", "type": "quantitative"}}},
            {"transform": [{"filter": "datum.t == 'br'"}], "mark": {"type": "rule", "color": "#555555", "strokeWidth": 1}, "encoding": {"y": {"field": "y", "type": "quantitative"}, "y2": {"field": "ylo"}}},
            {"transform": [{"filter": "datum.t == 'br'"}], "mark": {"type": "rule", "color": "#555555", "strokeWidth": 1}, "encoding": {"x": {"field": "g2", "type": "nominal"}, "y": {"field": "y", "type": "quantitative"}, "y2": {"field": "ylo"}}},
            {"transform": [{"filter": "datum.t == 'br' && !datum.w"}], "mark": {"type": "text", "baseline": "bottom", "dy": -1, "fontSize": 10.5, "font": "Liberation Sans", "color": "#333333"}, "encoding": {"x": {"field": "m", "type": "nominal", "bandPosition": 1}, "y": {"field": "y", "type": "quantitative"}, "text": {"field": "lab"}}},
            {"transform": [{"filter": "datum.t == 'br' && datum.w"}], "mark": {"type": "text", "baseline": "bottom", "dy": -1, "fontSize": 10.5, "font": "Liberation Sans", "color": "#333333"}, "encoding": {"x": {"field": "m", "type": "nominal"}, "y": {"field": "y", "type": "quantitative"}, "text": {"field": "lab"}}}
           ]},
          {"width": 210, "height": 213, "data": {"name": "bx"}, "transform": [{"filter": "datum.p == 'P5'"}],
           "encoding": {"x": {"field": "g", "type": "nominal", "scale": {"domain": ["Healthy", "Sepsis", "Septic shock"], "paddingInner": 0, "paddingOuter": 0.1}, "axis": {"title": null, "labelAngle": 0, "labelOverlap": false, "labelBound": false, "labelPadding": 3}}},
           "layer": [
            {"transform": [{"filter": "datum.t == 'box'"}], "mark": {"type": "rule", "strokeWidth": 1}, "encoding": {"y": {"field": "lo", "type": "quantitative", "scale": {"domain": [-3.8, 88.3], "nice": false, "zero": false}, "axis": {"title": "PC (18:0/20:3) (μM)", "values": [0, 20, 40, 60, 80]}}, "y2": {"field": "hi"}, "stroke": {"field": "g", "type": "nominal", "scale": {"domain": ["Healthy", "Sepsis", "Septic shock"], "range": ["#444444", "#FFA500", "#FF2020"]}, "legend": null}}},
            {"transform": [{"filter": "datum.t == 'box'"}], "mark": {"type": "bar", "width": {"band": 0.7}, "strokeWidth": 1.2}, "encoding": {"y": {"field": "q1", "type": "quantitative"}, "y2": {"field": "q3"}, "fill": {"field": "g", "type": "nominal", "scale": {"domain": ["Healthy", "Sepsis", "Septic shock"], "range": ["#8E8E8E", "#FFD68A", "#FF8F8F"]}, "legend": null}, "stroke": {"field": "g", "type": "nominal", "legend": null}}},
            {"transform": [{"filter": "datum.t == 'box'"}], "mark": {"type": "tick", "thickness": 1.6, "size": 46}, "encoding": {"y": {"field": "md", "type": "quantitative"}, "color": {"field": "g", "type": "nominal", "scale": {"domain": ["Healthy", "Sepsis", "Septic shock"], "range": ["#1E1E1E", "#FFA000", "#FF1A1A"]}, "legend": null}}},
            {"transform": [{"filter": "datum.t == 'out'"}], "mark": {"type": "circle", "size": 14, "opacity": 1}, "encoding": {"y": {"field": "v", "type": "quantitative"}, "fill": {"field": "g", "type": "nominal", "legend": null}}},
            {"transform": [{"filter": "datum.t == 'br'"}], "mark": {"type": "rule", "color": "#555555", "strokeWidth": 1}, "encoding": {"x2": {"field": "g2"}, "y": {"field": "y", "type": "quantitative"}}},
            {"transform": [{"filter": "datum.t == 'br'"}], "mark": {"type": "rule", "color": "#555555", "strokeWidth": 1}, "encoding": {"y": {"field": "y", "type": "quantitative"}, "y2": {"field": "ylo"}}},
            {"transform": [{"filter": "datum.t == 'br'"}], "mark": {"type": "rule", "color": "#555555", "strokeWidth": 1}, "encoding": {"x": {"field": "g2", "type": "nominal"}, "y": {"field": "y", "type": "quantitative"}, "y2": {"field": "ylo"}}},
            {"transform": [{"filter": "datum.t == 'br' && !datum.w"}], "mark": {"type": "text", "baseline": "bottom", "dy": -1, "fontSize": 10.5, "font": "Liberation Sans", "color": "#333333"}, "encoding": {"x": {"field": "m", "type": "nominal", "bandPosition": 1}, "y": {"field": "y", "type": "quantitative"}, "text": {"field": "lab"}}},
            {"transform": [{"filter": "datum.t == 'br' && datum.w"}], "mark": {"type": "text", "baseline": "bottom", "dy": -1, "fontSize": 10.5, "font": "Liberation Sans", "color": "#333333"}, "encoding": {"x": {"field": "m", "type": "nominal"}, "y": {"field": "y", "type": "quantitative"}, "text": {"field": "lab"}}}
           ]},
          {"width": 212, "height": 213, "data": {"name": "bx"}, "transform": [{"filter": "datum.p == 'P6'"}],
           "encoding": {"x": {"field": "g", "type": "nominal", "scale": {"domain": ["Healthy", "Sepsis", "Septic shock"], "paddingInner": 0, "paddingOuter": 0.1}, "axis": {"title": null, "labelAngle": 0, "labelOverlap": false, "labelBound": false, "labelPadding": 3}}},
           "layer": [
            {"transform": [{"filter": "datum.t == 'box'"}], "mark": {"type": "rule", "strokeWidth": 1}, "encoding": {"y": {"field": "lo", "type": "quantitative", "scale": {"domain": [-0.034, 0.795], "nice": false, "zero": false}, "axis": {"title": "PC (18:2/20:1) (μM)", "values": [0, 0.2, 0.4, 0.6], "format": ".1f"}}, "y2": {"field": "hi"}, "stroke": {"field": "g", "type": "nominal", "scale": {"domain": ["Healthy", "Sepsis", "Septic shock"], "range": ["#444444", "#FFA500", "#FF2020"]}, "legend": null}}},
            {"transform": [{"filter": "datum.t == 'box'"}], "mark": {"type": "bar", "width": {"band": 0.7}, "strokeWidth": 1.2}, "encoding": {"y": {"field": "q1", "type": "quantitative"}, "y2": {"field": "q3"}, "fill": {"field": "g", "type": "nominal", "scale": {"domain": ["Healthy", "Sepsis", "Septic shock"], "range": ["#8E8E8E", "#FFD68A", "#FF8F8F"]}, "legend": null}, "stroke": {"field": "g", "type": "nominal", "legend": null}}},
            {"transform": [{"filter": "datum.t == 'box'"}], "mark": {"type": "tick", "thickness": 1.6, "size": 46}, "encoding": {"y": {"field": "md", "type": "quantitative"}, "color": {"field": "g", "type": "nominal", "scale": {"domain": ["Healthy", "Sepsis", "Septic shock"], "range": ["#1E1E1E", "#FFA000", "#FF1A1A"]}, "legend": null}}},
            {"transform": [{"filter": "datum.t == 'out'"}], "mark": {"type": "circle", "size": 14, "opacity": 1}, "encoding": {"y": {"field": "v", "type": "quantitative"}, "fill": {"field": "g", "type": "nominal", "legend": null}}},
            {"transform": [{"filter": "datum.t == 'br'"}], "mark": {"type": "rule", "color": "#555555", "strokeWidth": 1}, "encoding": {"x2": {"field": "g2"}, "y": {"field": "y", "type": "quantitative"}}},
            {"transform": [{"filter": "datum.t == 'br'"}], "mark": {"type": "rule", "color": "#555555", "strokeWidth": 1}, "encoding": {"y": {"field": "y", "type": "quantitative"}, "y2": {"field": "ylo"}}},
            {"transform": [{"filter": "datum.t == 'br'"}], "mark": {"type": "rule", "color": "#555555", "strokeWidth": 1}, "encoding": {"x": {"field": "g2", "type": "nominal"}, "y": {"field": "y", "type": "quantitative"}, "y2": {"field": "ylo"}}},
            {"transform": [{"filter": "datum.t == 'br' && !datum.w"}], "mark": {"type": "text", "baseline": "bottom", "dy": -1, "fontSize": 10.5, "font": "Liberation Sans", "color": "#333333"}, "encoding": {"x": {"field": "m", "type": "nominal", "bandPosition": 1}, "y": {"field": "y", "type": "quantitative"}, "text": {"field": "lab"}}},
            {"transform": [{"filter": "datum.t == 'br' && datum.w"}], "mark": {"type": "text", "baseline": "bottom", "dy": -1, "fontSize": 10.5, "font": "Liberation Sans", "color": "#333333"}, "encoding": {"x": {"field": "m", "type": "nominal"}, "y": {"field": "y", "type": "quantitative"}, "text": {"field": "lab"}}}
           ]}
        ]
      },
      {
        "bounds": "flush", "spacing": 44,
        "hconcat": [
          {"width": 214, "height": 205, "data": {"name": "bx"}, "transform": [{"filter": "datum.p == 'P7'"}],
           "encoding": {"x": {"field": "g", "type": "nominal", "scale": {"domain": ["Healthy", "Sepsis", "Septic shock"], "paddingInner": 0, "paddingOuter": 0.1}, "axis": {"title": null, "labelAngle": 0, "labelOverlap": false, "labelBound": false, "labelPadding": 3}}},
           "layer": [
            {"transform": [{"filter": "datum.t == 'box'"}], "mark": {"type": "rule", "strokeWidth": 1}, "encoding": {"y": {"field": "lo", "type": "quantitative", "scale": {"domain": [-0.3, 23.5], "nice": false, "zero": false}, "axis": {"title": "PC (18:2/20:3) (μM)", "values": [0, 5, 10, 15, 20]}}, "y2": {"field": "hi"}, "stroke": {"field": "g", "type": "nominal", "scale": {"domain": ["Healthy", "Sepsis", "Septic shock"], "range": ["#444444", "#FFA500", "#FF2020"]}, "legend": null}}},
            {"transform": [{"filter": "datum.t == 'box'"}], "mark": {"type": "bar", "width": {"band": 0.7}, "strokeWidth": 1.2}, "encoding": {"y": {"field": "q1", "type": "quantitative"}, "y2": {"field": "q3"}, "fill": {"field": "g", "type": "nominal", "scale": {"domain": ["Healthy", "Sepsis", "Septic shock"], "range": ["#8E8E8E", "#FFD68A", "#FF8F8F"]}, "legend": null}, "stroke": {"field": "g", "type": "nominal", "legend": null}}},
            {"transform": [{"filter": "datum.t == 'box'"}], "mark": {"type": "tick", "thickness": 1.6, "size": 46}, "encoding": {"y": {"field": "md", "type": "quantitative"}, "color": {"field": "g", "type": "nominal", "scale": {"domain": ["Healthy", "Sepsis", "Septic shock"], "range": ["#1E1E1E", "#FFA000", "#FF1A1A"]}, "legend": null}}},
            {"transform": [{"filter": "datum.t == 'out'"}], "mark": {"type": "circle", "size": 14, "opacity": 1}, "encoding": {"y": {"field": "v", "type": "quantitative"}, "fill": {"field": "g", "type": "nominal", "legend": null}}},
            {"transform": [{"filter": "datum.t == 'br'"}], "mark": {"type": "rule", "color": "#555555", "strokeWidth": 1}, "encoding": {"x2": {"field": "g2"}, "y": {"field": "y", "type": "quantitative"}}},
            {"transform": [{"filter": "datum.t == 'br'"}], "mark": {"type": "rule", "color": "#555555", "strokeWidth": 1}, "encoding": {"y": {"field": "y", "type": "quantitative"}, "y2": {"field": "ylo"}}},
            {"transform": [{"filter": "datum.t == 'br'"}], "mark": {"type": "rule", "color": "#555555", "strokeWidth": 1}, "encoding": {"x": {"field": "g2", "type": "nominal"}, "y": {"field": "y", "type": "quantitative"}, "y2": {"field": "ylo"}}},
            {"transform": [{"filter": "datum.t == 'br' && !datum.w"}], "mark": {"type": "text", "baseline": "bottom", "dy": -1, "fontSize": 10.5, "font": "Liberation Sans", "color": "#333333"}, "encoding": {"x": {"field": "m", "type": "nominal", "bandPosition": 1}, "y": {"field": "y", "type": "quantitative"}, "text": {"field": "lab"}}},
            {"transform": [{"filter": "datum.t == 'br' && datum.w"}], "mark": {"type": "text", "baseline": "bottom", "dy": -1, "fontSize": 10.5, "font": "Liberation Sans", "color": "#333333"}, "encoding": {"x": {"field": "m", "type": "nominal"}, "y": {"field": "y", "type": "quantitative"}, "text": {"field": "lab"}}}
           ]},
          {"width": 210, "height": 205, "data": {"name": "bx"}, "transform": [{"filter": "datum.p == 'P8'"}],
           "encoding": {"x": {"field": "g", "type": "nominal", "scale": {"domain": ["Healthy", "Sepsis", "Septic shock"], "paddingInner": 0, "paddingOuter": 0.1}, "axis": {"title": null, "labelAngle": 0, "labelOverlap": false, "labelBound": false, "labelPadding": 3}}},
           "layer": [
            {"transform": [{"filter": "datum.t == 'box'"}], "mark": {"type": "rule", "strokeWidth": 1}, "encoding": {"y": {"field": "lo", "type": "quantitative", "scale": {"domain": [-0.12, 5.6], "nice": false, "zero": false}, "axis": {"title": "PC (20:0/20:3) (μM)", "values": [0, 2, 4]}}, "y2": {"field": "hi"}, "stroke": {"field": "g", "type": "nominal", "scale": {"domain": ["Healthy", "Sepsis", "Septic shock"], "range": ["#444444", "#FFA500", "#FF2020"]}, "legend": null}}},
            {"transform": [{"filter": "datum.t == 'box'"}], "mark": {"type": "bar", "width": {"band": 0.7}, "strokeWidth": 1.2}, "encoding": {"y": {"field": "q1", "type": "quantitative"}, "y2": {"field": "q3"}, "fill": {"field": "g", "type": "nominal", "scale": {"domain": ["Healthy", "Sepsis", "Septic shock"], "range": ["#8E8E8E", "#FFD68A", "#FF8F8F"]}, "legend": null}, "stroke": {"field": "g", "type": "nominal", "legend": null}}},
            {"transform": [{"filter": "datum.t == 'box'"}], "mark": {"type": "tick", "thickness": 1.6, "size": 46}, "encoding": {"y": {"field": "md", "type": "quantitative"}, "color": {"field": "g", "type": "nominal", "scale": {"domain": ["Healthy", "Sepsis", "Septic shock"], "range": ["#1E1E1E", "#FFA000", "#FF1A1A"]}, "legend": null}}},
            {"transform": [{"filter": "datum.t == 'out'"}], "mark": {"type": "circle", "size": 14, "opacity": 1}, "encoding": {"y": {"field": "v", "type": "quantitative"}, "fill": {"field": "g", "type": "nominal", "legend": null}}},
            {"transform": [{"filter": "datum.t == 'br'"}], "mark": {"type": "rule", "color": "#555555", "strokeWidth": 1}, "encoding": {"x2": {"field": "g2"}, "y": {"field": "y", "type": "quantitative"}}},
            {"transform": [{"filter": "datum.t == 'br'"}], "mark": {"type": "rule", "color": "#555555", "strokeWidth": 1}, "encoding": {"y": {"field": "y", "type": "quantitative"}, "y2": {"field": "ylo"}}},
            {"transform": [{"filter": "datum.t == 'br'"}], "mark": {"type": "rule", "color": "#555555", "strokeWidth": 1}, "encoding": {"x": {"field": "g2", "type": "nominal"}, "y": {"field": "y", "type": "quantitative"}, "y2": {"field": "ylo"}}},
            {"transform": [{"filter": "datum.t == 'br' && !datum.w"}], "mark": {"type": "text", "baseline": "bottom", "dy": -1, "fontSize": 10.5, "font": "Liberation Sans", "color": "#333333"}, "encoding": {"x": {"field": "m", "type": "nominal", "bandPosition": 1}, "y": {"field": "y", "type": "quantitative"}, "text": {"field": "lab"}}},
            {"transform": [{"filter": "datum.t == 'br' && datum.w"}], "mark": {"type": "text", "baseline": "bottom", "dy": -1, "fontSize": 10.5, "font": "Liberation Sans", "color": "#333333"}, "encoding": {"x": {"field": "m", "type": "nominal"}, "y": {"field": "y", "type": "quantitative"}, "text": {"field": "lab"}}}
           ]},
          {"width": 214, "height": 205, "data": {"name": "bx"}, "transform": [{"filter": "datum.p == 'P9'"}],
           "encoding": {"x": {"field": "g", "type": "nominal", "scale": {"domain": ["Healthy", "Sepsis", "Septic shock"], "paddingInner": 0, "paddingOuter": 0.1}, "axis": {"title": null, "labelAngle": 0, "labelOverlap": false, "labelBound": false, "labelPadding": 3}}},
           "layer": [
            {"transform": [{"filter": "datum.t == 'box'"}], "mark": {"type": "rule", "strokeWidth": 1}, "encoding": {"y": {"field": "lo", "type": "quantitative", "scale": {"domain": [-0.48, 37.3], "nice": false, "zero": false}, "axis": {"title": "PE.P (18:0/20:5) (μM)", "values": [0, 10, 20, 30]}}, "y2": {"field": "hi"}, "stroke": {"field": "g", "type": "nominal", "scale": {"domain": ["Healthy", "Sepsis", "Septic shock"], "range": ["#444444", "#FFA500", "#FF2020"]}, "legend": null}}},
            {"transform": [{"filter": "datum.t == 'box'"}], "mark": {"type": "bar", "width": {"band": 0.7}, "strokeWidth": 1.2}, "encoding": {"y": {"field": "q1", "type": "quantitative"}, "y2": {"field": "q3"}, "fill": {"field": "g", "type": "nominal", "scale": {"domain": ["Healthy", "Sepsis", "Septic shock"], "range": ["#8E8E8E", "#FFD68A", "#FF8F8F"]}, "legend": null}, "stroke": {"field": "g", "type": "nominal", "legend": null}}},
            {"transform": [{"filter": "datum.t == 'box'"}], "mark": {"type": "tick", "thickness": 1.6, "size": 46}, "encoding": {"y": {"field": "md", "type": "quantitative"}, "color": {"field": "g", "type": "nominal", "scale": {"domain": ["Healthy", "Sepsis", "Septic shock"], "range": ["#1E1E1E", "#FFA000", "#FF1A1A"]}, "legend": null}}},
            {"transform": [{"filter": "datum.t == 'out'"}], "mark": {"type": "circle", "size": 14, "opacity": 1}, "encoding": {"y": {"field": "v", "type": "quantitative"}, "fill": {"field": "g", "type": "nominal", "legend": null}}},
            {"transform": [{"filter": "datum.t == 'br'"}], "mark": {"type": "rule", "color": "#555555", "strokeWidth": 1}, "encoding": {"x2": {"field": "g2"}, "y": {"field": "y", "type": "quantitative"}}},
            {"transform": [{"filter": "datum.t == 'br'"}], "mark": {"type": "rule", "color": "#555555", "strokeWidth": 1}, "encoding": {"y": {"field": "y", "type": "quantitative"}, "y2": {"field": "ylo"}}},
            {"transform": [{"filter": "datum.t == 'br'"}], "mark": {"type": "rule", "color": "#555555", "strokeWidth": 1}, "encoding": {"x": {"field": "g2", "type": "nominal"}, "y": {"field": "y", "type": "quantitative"}, "y2": {"field": "ylo"}}},
            {"transform": [{"filter": "datum.t == 'br' && !datum.w"}], "mark": {"type": "text", "baseline": "bottom", "dy": -1, "fontSize": 10.5, "font": "Liberation Sans", "color": "#333333"}, "encoding": {"x": {"field": "m", "type": "nominal", "bandPosition": 1}, "y": {"field": "y", "type": "quantitative"}, "text": {"field": "lab"}}},
            {"transform": [{"filter": "datum.t == 'br' && datum.w"}], "mark": {"type": "text", "baseline": "bottom", "dy": -1, "fontSize": 10.5, "font": "Liberation Sans", "color": "#333333"}, "encoding": {"x": {"field": "m", "type": "nominal"}, "y": {"field": "y", "type": "quantitative"}, "text": {"field": "lab"}}}
           ]}
        ]
      }
    ]
  }
]
}
